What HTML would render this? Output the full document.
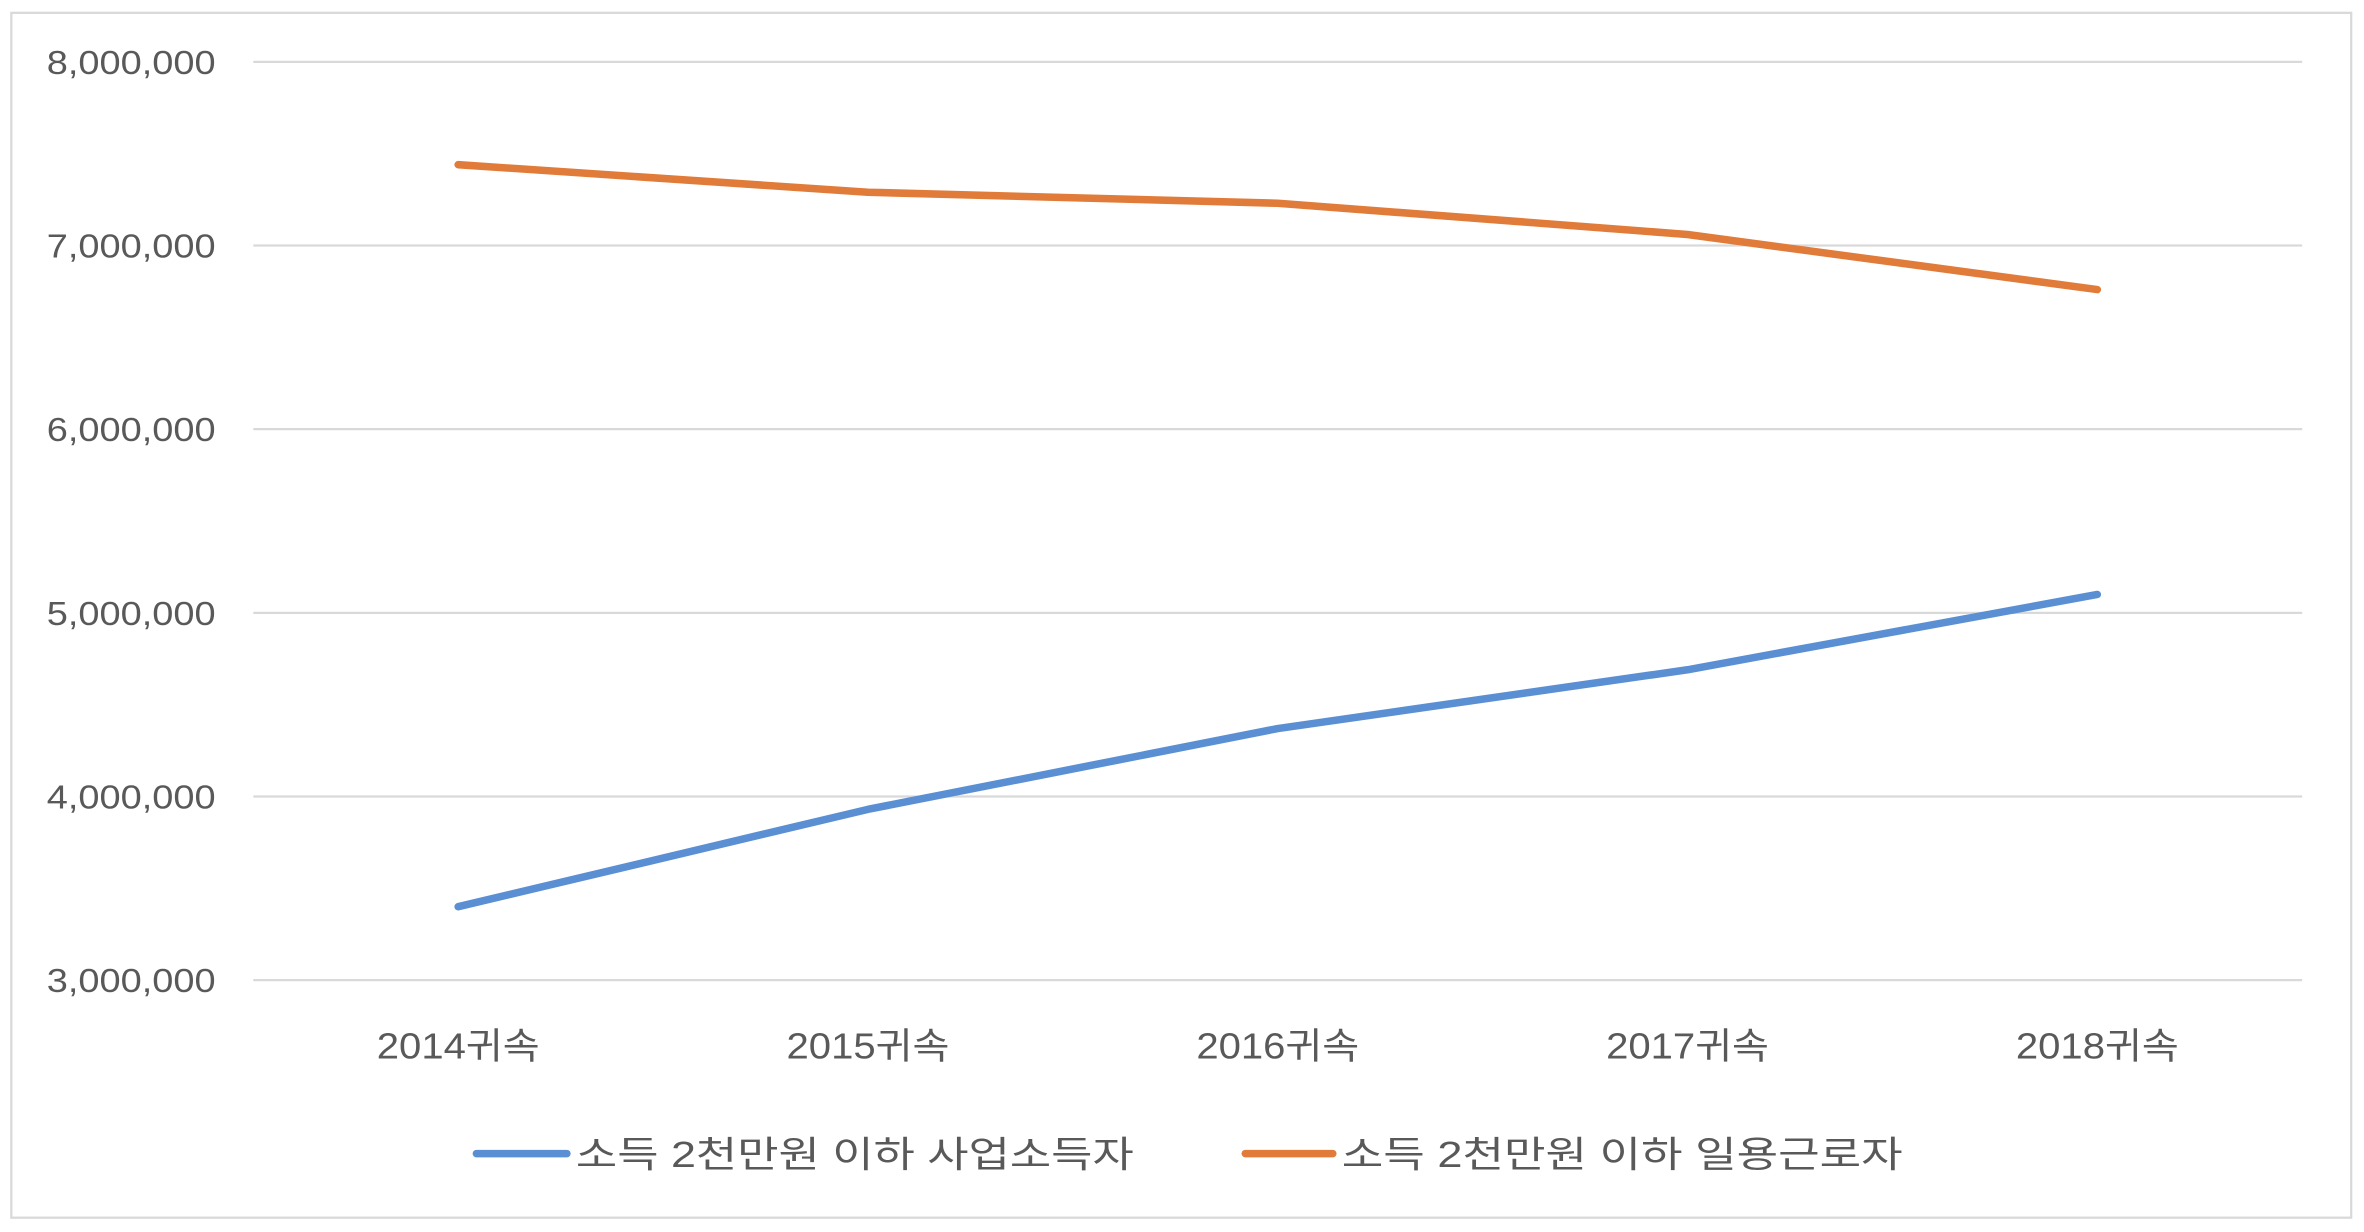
<!DOCTYPE html>
<html><head><meta charset="utf-8"><style>
html,body{margin:0;padding:0;background:#fff;}
svg{display:block;}
text{font-family:"Liberation Sans","Noto Sans CJK KR","NanumGothic",sans-serif;fill:#595959;}
</style></head><body>
<svg id="chart" width="2364" height="1232" viewBox="0 0 1568 817" preserveAspectRatio="none" xmlns="http://www.w3.org/2000/svg">
<rect x="7.5" y="8.5" width="1552" height="799" fill="#fff" stroke="#d9d9d9" stroke-width="1.5"/>
<g id="grid"></g><g id="yt"></g><g id="xt"></g><g id="lines"></g>
<g>
<line x1="316" y1="765" x2="376" y2="765" stroke="#5B8FD3" stroke-width="5" stroke-linecap="round"/>
<text x="382" y="774" font-size="24" textLength="370" lengthAdjust="spacingAndGlyphs">소득 2천만원 이하 사업소득자</text>
<line x1="826" y1="765" x2="884" y2="765" stroke="#E07B39" stroke-width="5" stroke-linecap="round"/>
<text x="890" y="774" font-size="24" textLength="372" lengthAdjust="spacingAndGlyphs">소득 2천만원 이하 일용근로자</text>
</g>
</svg>
<script>
const categories=["2014귀속","2015귀속","2016귀속","2017귀속","2018귀속"];
const businessIncome=[3400000,3930000,4370000,4690000,5100000];
const dailyWorkers=[7440000,7290000,7230000,7060000,6760000];
const yTicks=[3000000,4000000,5000000,6000000,7000000,8000000];
const NS="http://www.w3.org/2000/svg";
const X0=168,X1=1527,Y0=650,Y1=41,ymin=3000000,ymax=8000000;
const xs=i=>X0+(X1-X0)*(i+0.5)/categories.length;
const ys=v=>Y0-(v-ymin)/(ymax-ymin)*(Y0-Y1);
function mk(t,a,p){const e=document.createElementNS(NS,t);for(const k in a)e.setAttribute(k,a[k]);p.appendChild(e);return e;}
const g=document.getElementById('grid'),yt=document.getElementById('yt'),xt=document.getElementById('xt'),ln=document.getElementById('lines');
yTicks.forEach(v=>{
 const l=mk('line',{x1:X0,x2:X1,y1:ys(v),y2:ys(v),stroke:'#d9d9d9','stroke-width':1.5},g);
 
 
 const t=mk('text',{x:143,y:ys(v)+8,'font-size':22,'text-anchor':'end',textLength:112,lengthAdjust:'spacingAndGlyphs'},yt);
 t.textContent=v.toLocaleString('en-US');
 
 
});
categories.forEach((c,i)=>{
 const t=mk('text',{x:xs(i),y:702,'font-size':24,'text-anchor':'middle',textLength:108,lengthAdjust:'spacingAndGlyphs'},xt);
 t.textContent=c;
 
 
});
function series(arr,col,name){
 const p=mk('polyline',{points:arr.map((v,i)=>xs(i)+','+ys(v)).join(' '),fill:'none',stroke:col,'stroke-width':5,'stroke-linecap':'round','stroke-linejoin':'round'},ln);
 
 
}
series(businessIncome,'#5B8FD3','series-business-income-line');
series(dailyWorkers,'#E07B39','series-daily-workers-line');
</script>
</body></html>
